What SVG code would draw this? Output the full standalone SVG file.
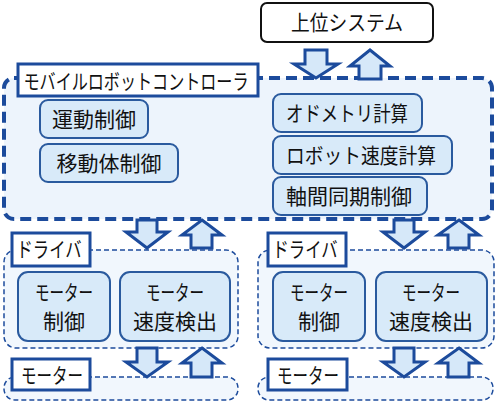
<svg xmlns="http://www.w3.org/2000/svg" width="497" height="403" viewBox="0 0 497 403">
<style>
text{font-family:"Noto Sans CJK JP","Noto Sans",sans-serif;fill:#111;dominant-baseline:central;text-anchor:middle}
.t{font-size:21px}
.sys{fill:#fff;stroke:#111;stroke-width:2}
.main{fill:#EDF4FC;stroke:#1C4B9C;stroke-width:4;stroke-dasharray:11 6}
.grp{fill:#F1F7FD;stroke:#1C4B9C;stroke-width:1.5;stroke-dasharray:5 3}
.lbl{fill:#fff;stroke:#1C4B9C;stroke-width:3}
.node{fill:#D8EAF9;stroke:#2A5A9E;stroke-width:2}
.arr{fill:#D6E8F9;stroke:#1C4B9C;stroke-width:3;stroke-linejoin:miter}
</style>
<g id="system">
<rect class="sys" x="261" y="3" width="172" height="39" rx="6"/>
<text class="t" x="347" y="21" font-size="20" textLength="112" lengthAdjust="spacingAndGlyphs">上位システム</text>
</g>
<g id="controller">
<rect class="main" x="4" y="78" width="488" height="141" rx="10"/>
<rect class="lbl" x="18" y="64" width="240" height="32"/>
<text class="t" x="136" y="80" font-size="22" textLength="225" lengthAdjust="spacingAndGlyphs">モバイルロボットコントローラ</text>
</g>
<g id="undou">
<rect class="node" x="40" y="100" width="108" height="38" rx="8"/>
<text class="t" x="94" y="118" font-size="21.5">運動制御</text>
</g>
<g id="idoutai">
<rect class="node" x="40" y="144" width="138" height="38" rx="8"/>
<text class="t" x="109" y="162" font-size="21.5">移動体制御</text>
</g>
<g id="odometry">
<rect class="node" x="273" y="94" width="149" height="38" rx="8"/>
<text class="t" x="347" y="112" font-size="21.5" textLength="122" lengthAdjust="spacingAndGlyphs">オドメトリ計算</text>
</g>
<g id="robotspeed">
<rect class="node" x="273" y="136" width="179" height="38" rx="8"/>
<text class="t" x="361" y="154" font-size="21.5" textLength="150" lengthAdjust="spacingAndGlyphs">ロボット速度計算</text>
</g>
<g id="sync">
<rect class="node" x="273" y="177" width="154" height="38" rx="8"/>
<text class="t" x="349" y="195" font-size="21.5">軸間同期制御</text>
</g>
<g id="driver-left">
<rect class="grp" x="4" y="250" width="234" height="98" rx="12"/>
<rect class="lbl" x="12" y="233" width="78" height="33"/>
<text class="t" x="49" y="248" font-size="23" textLength="65" lengthAdjust="spacingAndGlyphs">ドライバ</text>
</g>
<g id="motorctl-left">
<rect class="node" x="18" y="272" width="92" height="69" rx="10"/>
<text class="t" x="64" y="291" font-size="21.5" textLength="58" lengthAdjust="spacingAndGlyphs">モーター</text>
<text class="t" x="64" y="320" font-size="21.5">制御</text>
</g>
<g id="motorspd-left">
<rect class="node" x="120" y="272" width="110" height="69" rx="10"/>
<text class="t" x="175" y="291" font-size="21.5" textLength="58" lengthAdjust="spacingAndGlyphs">モーター</text>
<text class="t" x="175" y="320" font-size="21.5">速度検出</text>
</g>
<g id="driver-right">
<rect class="grp" x="258" y="250" width="236" height="98" rx="12"/>
<rect class="lbl" x="268" y="233" width="78" height="33"/>
<text class="t" x="305" y="248" font-size="23" textLength="65" lengthAdjust="spacingAndGlyphs">ドライバ</text>
</g>
<g id="motorctl-right">
<rect class="node" x="273" y="272" width="92" height="69" rx="10"/>
<text class="t" x="319" y="291" font-size="21.5" textLength="58" lengthAdjust="spacingAndGlyphs">モーター</text>
<text class="t" x="319" y="320" font-size="21.5">制御</text>
</g>
<g id="motorspd-right">
<rect class="node" x="376" y="272" width="111" height="69" rx="10"/>
<text class="t" x="431" y="291" font-size="21.5" textLength="58" lengthAdjust="spacingAndGlyphs">モーター</text>
<text class="t" x="431" y="320" font-size="21.5">速度検出</text>
</g>
<g id="motor-left">
<rect class="grp" x="4" y="377" width="234" height="23" rx="11"/>
<rect class="lbl" x="12" y="359" width="78" height="31"/>
<text class="t" x="52" y="374" font-size="22" textLength="62" lengthAdjust="spacingAndGlyphs">モーター</text>
</g>
<g id="motor-right">
<rect class="grp" x="258" y="377" width="235" height="23" rx="11"/>
<rect class="lbl" x="268" y="359" width="79" height="31"/>
<text class="t" x="308" y="374" font-size="22" textLength="62" lengthAdjust="spacingAndGlyphs">モーター</text>
</g>
<g id="connectors">
<polygon class="arr" points="305,50 327,50 327,64 338,64 316,78 294,64 305,64"/>
<polygon class="arr" points="370,50 390,66 381,66 381,79 359,79 359,66 350,66"/>
<polygon class="arr" points="137,220 157,220 157,232 168,232 147,248 126,232 137,232"/>
<polygon class="arr" points="202,220 222,235 212,235 212,248 191,248 191,235 182,235"/>
<polygon class="arr" points="394,220 414,220 414,232 425,232 404,248 383,232 394,232"/>
<polygon class="arr" points="459,220 479,235 469,235 469,248 448,248 448,235 438,235"/>
<polygon class="arr" points="137,348 157,348 157,362 168,362 147,377 126,362 137,362"/>
<polygon class="arr" points="202,348 222,363 212,363 212,377 191,377 191,363 182,363"/>
<polygon class="arr" points="394,348 414,348 414,362 425,362 404,377 383,362 394,362"/>
<polygon class="arr" points="459,348 479,363 469,363 469,377 448,377 448,363 438,363"/>
</g>
</svg>
